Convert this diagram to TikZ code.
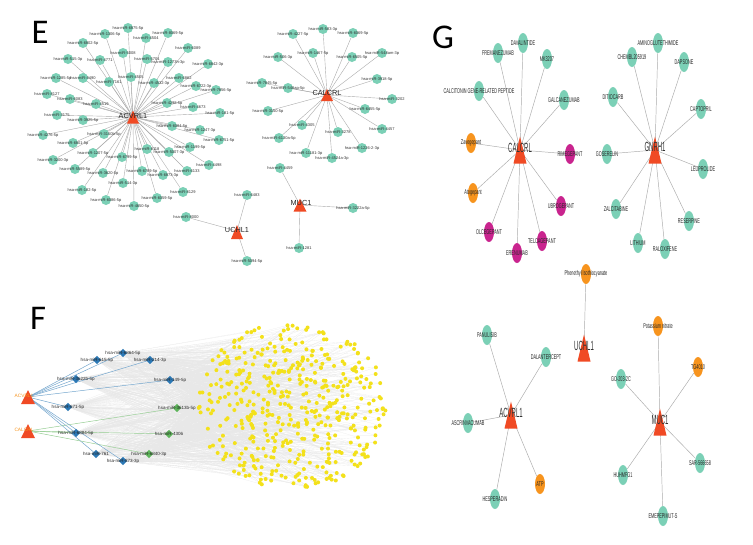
\documentclass[tikz,border=0pt]{standalone}
\usepackage{fontspec}
\setmainfont{Liberation Sans}
\newfontfamily\gfont[FakeStretch=0.55]{Liberation Sans}
\newfontfamily\ghubfont[FakeStretch=0.45]{Liberation Sans}
\newfontfamily\letterfont{Carlito}
\usetikzlibrary{shapes.geometric,calc}
\pgfdeclarelayer{bg}
\pgfdeclarelayer{paper}
\pgfsetlayers{paper,bg,main}
\definecolor{cTeal}{HTML}{7BD0B6}
\definecolor{cOrange}{HTML}{F7941E}
\definecolor{cMag}{HTML}{C9248E}
\definecolor{cTri}{HTML}{F04A24}
\definecolor{cBlue}{HTML}{2B78B5}
\definecolor{cGreen}{HTML}{5DB55A}
\definecolor{cYellow}{HTML}{F3E11B}
\definecolor{cBlueE}{HTML}{6FA3CC}
\definecolor{cGreenE}{HTML}{93CC90}
\tikzset{
 emir/.style={circle,fill=cTeal,minimum size=7.5pt,inner sep=0pt},
 elab/.style={font=\fontsize{3}{3.6}\selectfont,text=black!80,inner sep=0pt},
 eedge/.style={draw=black!33,line width=0.3pt},
 ehub/.style={font=\fontsize{5.5}{6.5}\selectfont,text=black!85,inner sep=0pt},
 trifill/.style={fill=cTri},
 gell/.style={ellipse,minimum width=7.5pt,minimum height=15pt,inner sep=0pt},
 glab/.style={font=\gfont\fontsize{5.2}{6}\selectfont,text=black!85,inner sep=0pt},
 ghub/.style={font=\ghubfont\fontsize{10}{11}\selectfont,text=black!80,inner sep=0pt},
 gedge/.style={draw=black!33,line width=0.35pt},
 fdiam/.style={diamond,minimum size=6.5pt,inner sep=0pt},
 flab/.style={font=\fontsize{3.4}{4}\selectfont,text=black!85,inner sep=0pt},
 fhub/.style={font=\fontsize{3.6}{4}\selectfont,text=cOrange,inner sep=0pt},
 fedge/.style={draw=black!9,line width=0.1pt},
 ydot/.style={circle,fill=cYellow,minimum size=3pt,inner sep=0pt},
 letter/.style={font=\letterfont\fontsize{26}{28}\selectfont,inner sep=0pt}
}
\newcommand\tri[5]{%
 \coordinate (#1) at (#2,#3);
 \fill[trifill] ($(#1)+(-#4/2,#5/2)$) -- ($(#1)+(#4/2,#5/2)$) -- ($(#1)+(0,-#5/2)$) -- cycle;}
\def\Eleaves{a1/128/28/{hsa-miR-6875-5p}/ea, a2/105/34/{hsa-miR-1306-5p}/ea, a3/168/33/{hsa-miR-8069-5p}/ea,
 a4/146/38/{hsa-miR-4504}/ea, a5/83/43/{hsa-miR-6802-5p}/ea, a6/123/53/{hsa-miR-5008}/ea,
 a7/188/48/{hsa-miR-6089}/ea, a8/68/59/{hsa-miR-515-3p}/ea, a9/100/60/{hsa-miR-4771}/ea,
 a10/147/59/{hsa-miR-5704}/ea, a11/168/62/{hsa-miR-1273h-3p}/ea, a12/208/64/{hsa-miR-6842-3p}/ea,
 a13/56/78/{hsa-miR-1285-5p}/ea, a14/83/78/{hsa-miR-4490}/ea, a15/109/82/{hsa-miR-7161}/ea,
 a16/131/77/{hsa-miR-4505}/ea, a17/154/83/{hsa-miR-4532-3p}/ea, a18/179/78/{hsa-miR-6862}/ea,
 a19/47/94/{hsa-miR-8127}/ea, a20/70/99/{hsa-miR-6083}/ea, a21/96/104/{hsa-miR-4519}/ea,
 a22/196/86/{hsa-miR-6722-3p}/ea, a23/216/90/{hsa-miR-7856-5p}/ea, a24/167/103/{hsa-miR-4298-5p}/ea,
 a25/193/107/{hsa-miR-4673}/ea, a26/220/113/{hsa-miR-181-5p}/ea, a27/57/115/{hsa-miR-3175}/ea,
 a28/83/120/{hsa-miR-3925-5p}/ea, a29/172/126/{hsa-miR-6084-5p}/ea, a30/200/130/{hsa-miR-1247-3p}/ea,
 a31/43/135/{hsa-miR-4276-5p}/ea, a32/104/134/{hsa-miR-3150b-5p}/ea, a33/219/140/{hsa-miR-6751-5p}/ea,
 a34/73/143/{hsa-miR-6801-5p}/ea, a35/190/147/{hsa-miR-1199-5p}/ea, a36/147/149/{hsa-miR-8118}/ea,
 a37/169/152/{hsa-miR-5007-3p}/ea, a38/93/153/{hsa-miR-1207-5p}/ea, a39/53/160/{hsa-miR-3200-3p}/ea,
 a40/122/157/{hsa-miR-6799-5p}/ea, a41/209/165/{hsa-miR-4498}/ea, a42/75/169/{hsa-miR-5589-5p}/ea,
 a43/103/173/{hsa-miR-3620-5p}/ea, a44/142/171/{hsa-miR-6789-5p}/ea, a45/163/175/{hsa-miR-6873-3p}/ea,
 a46/187/171/{hsa-miR-6133}/ea, a47/123/183/{hsa-miR-514-3p}/ea, a48/82/190/{hsa-miR-182-5p}/ea,
 a49/183/192/{hsa-miR-8129}/ea, a50/157/198/{hsa-miR-6059-5p}/ea, a51/106/200/{hsa-miR-6086-5p}/ea,
 a52/134/206/{hsa-miR-4650-5p}/ea,
 c1/323/29/{hsa-miR-583-3p}/ec, c2/293/34/{hsa-miR-4227-5p}/ec, c3/353/33/{hsa-miR-6069-5p}/ec,
 c4/278/57/{hsa-miR-506-3p}/ec, c5/313/53/{hsa-miR-1467-5p}/ec, c6/352/57/{hsa-miR-6505-5p}/ec,
 c7/382/53/{hsa-miR-548am-3p}/ec, c8/377/79/{hsa-miR-3918-5p}/ec, c9/262/83/{hsa-miR-7845-5p}/ec,
 c10/288/88/{hsa-miR-548ap-5p}/ec, c11/392/99/{hsa-miR-3202}/ec, c12/268/111/{hsa-miR-3150-5p}/ec,
 c13/365/109/{hsa-miR-6455-5p}/ec, c14/302/125/{hsa-miR-4305}/ec, c15/338/132/{hsa-miR-3278}/ec,
 c16/382/129/{hsa-miR-4457}/ec, c17/279/138/{hsa-miR-6130a-5p}/ec, c18/306/153/{hsa-miR-11181-3p}/ec,
 c19/332/158/{hsa-miR-4524a-3p}/ec, c20/362/148/{hsa-miR-1226-2-3p}/ec,
 u1/247/195/{hsa-miR-6483}/eu, u2/186/217/{hsa-miR-8000}/eu, u3/247/261/{hsa-miR-5094-5p}/eu,
 m1/280/168/{hsa-miR-4459}/em, m2/353/208/{hsa-miR-3222a-5p}/em, m3/299/248/{hsa-miR-1281}/em}
\def\Fleaves{fd1/123/353/{hsa-miR-6864-5p}/fa/cBlue/cBlueE, fd2/97/360/{hsa-miR-615-5p}/fa/cBlue/cBlueE,
 fd3/150/360/{hsa-miR-214-3p}/fa/cBlue/cBlueE, fd4/76/379/{hsa-miR-3622b-5p}/fa/cBlue/cBlueE,
 fd5/170/380/{hsa-miR-149-5p}/fa/cBlue/cBlueE, fd6/68/407/{hsa-miR-671-5p}/fa/cBlue/cBlueE,
 fd7/177/408/{hsa-miR-3613b-5p}/fc/cGreen/cGreenE, fd8/76/433/{hsa-miR-6884-5p}/fa/cBlue/cBlueE,
 fd9/169/434/{hsa-miR-4306}/fc/cGreen/cGreenE, fd10/96/454/{hsa-miR-761}/fa/cBlue/cBlueE,
 fd11/149/454/{hsa-miR-6840-3p}/fc/cGreen/cGreenE, fd12/123/461/{hsa-miR-873-3p}/fa/cBlue/cBlueE}
\def\Gleaves{g1/523/43/{DAVALINTIDE}/gc/cTeal, g2/498/53/{FREMANEZUMAB}/gc/cTeal, g3/547/59/{MK3207}/gc/cTeal,
 g4/479/91/{CALCITONIN GENE-RELATED PEPTIDE}/gc/cTeal, g5/564/100/{GALCANEZUMAB}/gc/cTeal,
 g6/471/143/{Zavegepant}/gc/cOrange, g7/473/193/{Atogepant}/gc/cOrange, g8/570/154/{RIMEGEPANT}/gc/cMag,
 g9/561/206/{UBROGEPANT}/gc/cMag, g10/489/232/{OLCEGEPANT}/gc/cMag, g11/542/241/{TELCAGEPANT}/gc/cMag,
 g12/517/253/{ERENUMAB}/gc/cMag,
 h1/658/43/{AMINOGLUTETHIMIDE}/gg/cTeal, h2/632/57/{CHEMBL205919}/gg/cTeal, h3/684/62/{DAPSONE}/gg/cTeal,
 h4/613/97/{DITIOCARB}/gg/cTeal, h5/701/109/{CAPTOPRIL}/gg/cTeal, h6/607/154/{GOSERELIN}/gg/cTeal,
 h7/703/169/{LEUPROLIDE}/gg/cTeal, h8/616/209/{ZALCITABINE}/gg/cTeal, h9/689/221/{RESERPINE}/gg/cTeal,
 h10/638/243/{LITHIUM}/gg/cTeal, h11/665/249/{RALOXIFENE}/gg/cTeal,
 k1/586/274/{Phenethyl Isothiocyanate}/gu/cOrange,
 p1/487/335/{PANULISIB}/ga/cTeal, p2/546/357/{DALANTERCEPT}/ga/cTeal, p3/468/423/{ASCRINVACUMAB}/ga/cTeal,
 p4/495/499/{HESPERADIN}/ga/cTeal, p5/540/484/{ATP}/ga/cOrange,
 q1/658/326/{Potassium nitrate}/gm/cOrange, q2/698/367/{TG4010}/gm/cOrange, q3/621/379/{GO-203-2C}/gm/cTeal,
 q4/623/475/{HUHMFG1}/gm/cTeal, q5/700/463/{SAR-566658}/gm/cTeal, q6/663/516/{EMEPEPIMUT-S}/gm/cTeal}
\begin{document}
\begin{tikzpicture}[x=0.75pt,y=-0.75pt]
\begin{pgfonlayer}{paper}
\fill[white] (0,0) rectangle (753,544);
\end{pgfonlayer}
\useasboundingbox (0,0) rectangle (753,544);
% panel letters
\node[letter] (lE) at (40,32) {E};
\node[letter] (lF) at (38,318) {F};
\node[letter] (lG) at (443,37) {G};

% hubs
\coordinate (ea) at (133,117);
\coordinate (ec) at (327,95);
\coordinate (eu) at (237,231);
\coordinate (em) at (300,205);
\coordinate (fa) at (28,397);
\coordinate (fc) at (28,431);
\coordinate (gc) at (520,150);
\coordinate (gg) at (655,150);
\coordinate (gu) at (584,348);
\coordinate (ga) at (511,415);
\coordinate (gm) at (660,422);

% ================= nodes =================
\foreach \n/\x/\y/\t/\h in \Eleaves {
 \node[emir] (\n) at (\x,\y) {};
 \node[elab] (\n t) at (\x,\y) {\t};
}
\foreach \n/\x/\y/\t/\h/\c/\e in \Fleaves {
 \node[fdiam,fill=\c] (\n) at (\x,\y) {};
 \node[flab] (\n t) at (\x,\y) {\t};
}
\foreach \n/\x/\y/\t/\h/\c in \Gleaves {
 \node[gell,fill=\c] (\n) at (\x,\y) {};
 \node[glab] (\n t) at (\x,\y) {\t};
}
\pgfmathsetseed{4242}
\foreach \i in {1,...,470}{
 \pgfmathsetmacro\rr{sqrt(rnd)}
 \pgfmathsetmacro\aa{360*rnd}
 \pgfmathsetmacro\px{292+95*\rr*cos(\aa)}
 \pgfmathsetmacro\py{406+84*\rr*sin(\aa)}
 \node[ydot] (y\i) at (\px,\py) {};
}

% ================= edges (background) =================
\begin{pgfonlayer}{bg}
\foreach \i in {1,...,470}{
 \pgfmathrandominteger{\ka}{1}{12}
 \pgfmathrandominteger{\kb}{1}{12}
 \draw[fedge] (fd\ka) -- (y\i);
 \draw[fedge] (fd\kb) -- (y\i);
}
\foreach \n/\x/\y/\t/\h in \Eleaves { \draw[eedge] (\h) -- (\n); }
\foreach \n/\x/\y/\t/\h/\c/\e in \Fleaves { \draw[draw=\e,line width=0.35pt] (\h) -- (\n); }
\draw[draw=cGreenE,line width=0.35pt] (fc) -- (fd8);
\foreach \n/\x/\y/\t/\h/\c in \Gleaves { \draw[gedge] (\h) -- (\n); }
\end{pgfonlayer}

% ================= hubs (triangles) =================
\tri{eaT}{133}{117}{12}{13}
\tri{ecT}{327}{95}{12}{12}
\tri{euT}{237}{232}{12}{14}
\tri{emT}{300}{205}{13}{13}
\node[ehub] (eal) at (133,116) {ACVRL1};
\node[ehub] (ecl) at (327,93) {CALCRL};
\node[ehub] (eul) at (237,230) {UCHL1};
\node[ehub] (eml) at (301,203) {MUC1};
\tri{faT}{28}{397}{14}{14}
\tri{fcT}{28}{431}{14}{14}
\node[fhub] (fal) at (24,396) {ACVRL1};
\node[fhub] (fcl) at (24,430) {CALCRL};
\tri{gcT}{520}{150}{13}{27}
\tri{ggT}{655}{150}{13}{27}
\tri{guT}{584}{348}{13}{27}
\tri{gaT}{511}{415}{13}{27}
\tri{gmT}{660}{422}{13}{27}
\node[ghub] (gcl) at (520,148) {CALCRL};
\node[ghub] (ggl) at (655,147) {GNRH1};
\node[ghub] (gul) at (584,346) {UCHL1};
\node[ghub] (gal) at (511,413) {ACVRL1};
\node[ghub] (gml) at (660,420) {MUC1};
\end{tikzpicture}
\end{document}
